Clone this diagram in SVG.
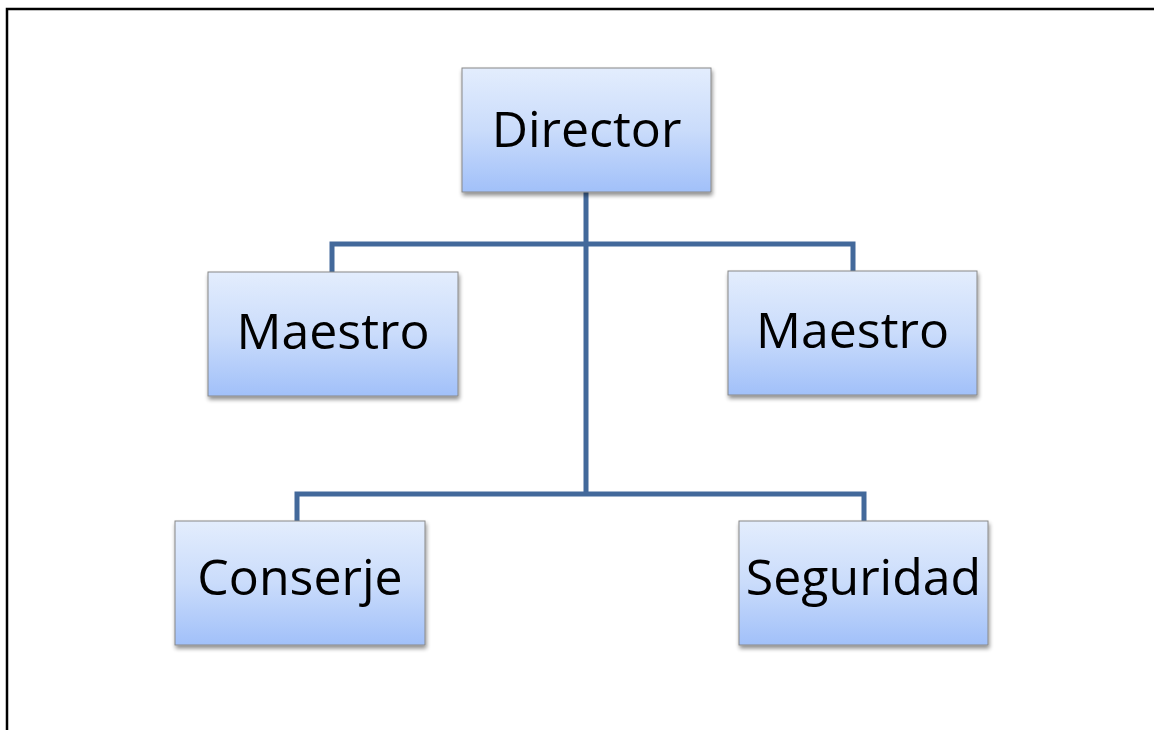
<svg xmlns="http://www.w3.org/2000/svg" width="1154" height="730" viewBox="0 0 1154 730">
<defs>
<linearGradient id="g" x1="0" y1="0" x2="0" y2="1">
<stop offset="0" stop-color="#e3edfd"/>
<stop offset="0.5" stop-color="#cadcfb"/>
<stop offset="1" stop-color="#a1c0f9"/>
</linearGradient>
<filter id="sh" x="-10%" y="-10%" width="125%" height="130%">
<feGaussianBlur in="SourceAlpha" stdDeviation="2"/>
<feOffset dx="1" dy="3" result="b"/>
<feComponentTransfer><feFuncA type="linear" slope="0.45"/></feComponentTransfer>
<feMerge><feMergeNode/><feMergeNode in="SourceGraphic"/></feMerge>
</filter>
</defs>
<style>
.box{fill:url(#g);stroke:#888;stroke-width:1;filter:url(#sh)}
.lbl{font-family:"Open Sans","Liberation Sans",sans-serif;font-size:50px;fill:#000;text-anchor:middle}
.con{fill:none;stroke:#43699b;stroke-width:5}
</style>
<rect x="0" y="0" width="1154" height="730" fill="#fff"/>
<path d="M7 730 V9 H1154" fill="none" stroke="#000" stroke-width="2.5"/>
<g id="connectors">
<path class="con" d="M586 192 V494"/>
<path class="con" d="M332 272 V244 H853 V271"/>
<path class="con" d="M297 521 V494 H864 V521"/>
</g>
<g id="director"><rect class="box" x="462" y="68" width="249" height="124"/><text class="lbl" x="586.5" y="147">Director</text></g>
<g id="maestro1"><rect class="box" x="208" y="272" width="250" height="124"/><text class="lbl" x="333" y="349">Maestro</text></g>
<g id="maestro2"><rect class="box" x="728" y="271" width="249" height="124"/><text class="lbl" x="852.5" y="348">Maestro</text></g>
<g id="conserje"><rect class="box" x="175" y="521" width="250" height="124"/><text class="lbl" x="300" y="595">Conserje</text></g>
<g id="seguridad"><rect class="box" x="739" y="521" width="249" height="124"/><text class="lbl" x="863.5" y="595">Seguridad</text></g>
</svg>
